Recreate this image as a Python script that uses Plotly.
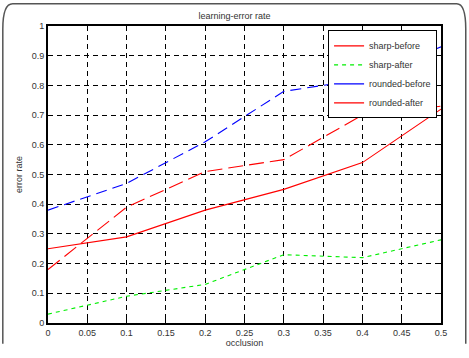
import plotly.graph_objects as go

occlusion = [0.0, 0.1, 0.2, 0.3, 0.4, 0.5]
sharp_before = [0.25, 0.29, 0.38, 0.45, 0.54, 0.72]
sharp_after = [0.03, 0.09, 0.13, 0.23, 0.22, 0.28]
rounded_before = [0.38, 0.47, 0.61, 0.78, 0.82, 0.93]
rounded_after = [0.18, 0.39, 0.51, 0.55, 0.70, 0.73]

x_ticks = [0, 0.05, 0.1, 0.15, 0.2, 0.25, 0.3, 0.35, 0.4, 0.45, 0.5]
x_tick_labels = ["0", "0.05", "0.1", "0.15", "0.2", "0.25", "0.3", "0.35", "0.4", "0.45", "0.5"]
y_ticks = [0, 0.1, 0.2, 0.3, 0.4, 0.5, 0.6, 0.7, 0.8, 0.9, 1]
y_tick_labels = ["0", "0.1", "0.2", "0.3", "0.4", "0.5", "0.6", "0.7", "0.8", "0.9", "1"]

RED = "#ff0000"
GREEN = "#00ee00"
BLUE = "#0000ff"
FONT = "Liberation Sans, Arial"

fig = go.Figure()
series = [
    ("sharp-before", sharp_before, RED, "solid", "solid"),
    ("sharp-after", sharp_after, GREEN, "4px,4px", "4px,4px"),
    ("rounded-before", rounded_before, BLUE, "11px,6px", "solid"),
    ("rounded-after", rounded_after, RED, "15px,6px", "solid"),
]
for name, vals, col, dash, _ in series:
    fig.add_trace(go.Scatter(x=occlusion, y=vals, mode="lines", name=name,
                             line=dict(color=col, width=1.1, dash=dash),
                             showlegend=False))
for name, vals, col, _, ldash in series:
    fig.add_trace(go.Scatter(x=[None], y=[None], mode="lines", name=name,
                             line=dict(color=col, width=1.3, dash=ldash),
                             showlegend=True))

axis_common = dict(
    showline=True, linecolor="black", linewidth=2, mirror="ticks",
    showgrid=True, gridcolor="black", gridwidth=1, griddash="5px,4px",
    ticks="inside", ticklen=4, tickcolor="black", zeroline=False,
    tickfont=dict(family=FONT, size=9, color="#333"),
)
fig.update_xaxes(range=[0, 0.5], tickvals=x_ticks, ticktext=x_tick_labels,
                 title=dict(text="occlusion", font=dict(family=FONT, size=9, color="#333"), standoff=2),
                 **axis_common)
fig.update_yaxes(range=[0, 1], tickvals=y_ticks, ticktext=y_tick_labels,
                 title=dict(text="error rate", font=dict(family=FONT, size=9, color="#333"), standoff=8),
                 **axis_common)

fig.update_layout(
    width=469, height=358,
    margin=dict(l=48, r=28, t=26, b=21),
    paper_bgcolor="white", plot_bgcolor="white",
    title=dict(text="learning-error rate", x=0.5, xanchor="center", y=0.955, yanchor="middle",
               font=dict(family=FONT, size=9, color="#333")),
    legend=dict(x=0.99, y=0.985, xanchor="right", yanchor="top",
                bgcolor="white", bordercolor="black", borderwidth=1,
                font=dict(family=FONT, size=9, color="#333"),
                tracegroupgap=0, itemwidth=30),
    shapes=[dict(type="path", xref="paper", yref="paper",
                 path="M -0.115,-0.07 L -0.115,0.99 Q -0.115,1.075 -0.09,1.075 L 1.04,1.075 Q 1.063,1.075 1.063,0.99 L 1.063,-0.07",
                 line=dict(color="#555", width=1.5), layer="above")],
)

fig.write_html("out.html")
